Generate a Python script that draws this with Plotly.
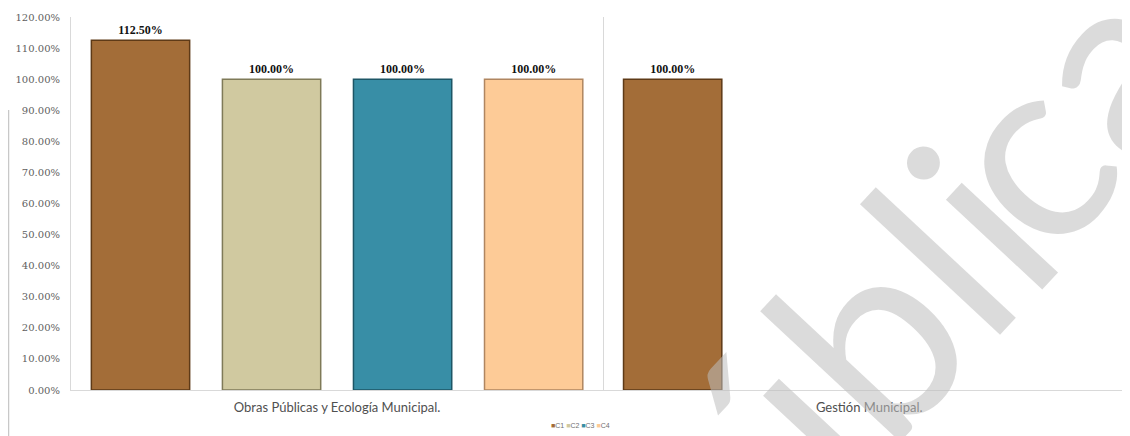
import plotly.graph_objects as go

categories = ["Obras Públicas y Ecología Municipal.", "Gestión Municipal."]
series_names = ["C1", "C2", "C3", "C4"]
c1 = [112.5, 100.0]
c2 = [100.0, None]
c3 = [100.0, None]
c4 = [100.0, None]
tick_vals = [0, 10, 20, 30, 40, 50, 60, 70, 80, 90, 100, 110, 120]
tick_text = [f"{v:.2f}%" for v in tick_vals]

fill_colors = ["#A36D38", "#D0C9A0", "#388EA6", "#FDCB97"]
edge_colors = ["#5E3A17", "#7F7A58", "#1D5666", "#B08660"]

# page has an 8px body margin: figure occupies page pixels (8..1130, 8..436)
OFF = 8
W, H = 1130 - OFF, 436 - OFF
ML, MR, MT, MB = 71 - OFF, 0, 17 - OFF, 46
PW, PH = W - ML - MR, H - MT - MB


def px(x):  # page pixel x -> paper
    return (x - OFF - ML) / PW


def py(y):  # page pixel y -> paper
    return (H - MB - (y - OFF)) / PH


fig = go.Figure()
for name, vals, fc, ec in zip(series_names, [c1, c2, c3, c4], fill_colors, edge_colors):
    fig.add_trace(go.Bar(
        x=categories, y=vals, name=name,
        marker=dict(color=fc, line=dict(color=ec, width=1.5)),
        text=[f"<b>{v:.2f}%</b>" if v is not None else "" for v in vals],
        textposition="outside", cliponaxis=False,
        textfont=dict(family="Liberation Serif", size=12, color="#111111"),
        showlegend=False,
    ))

fig.update_layout(
    width=W, height=H,
    margin=dict(l=ML, r=MR, t=MT, b=MB, autoexpand=False),
    paper_bgcolor="white", plot_bgcolor="white",
    barmode="group", bargap=0.015, bargroupgap=0.25,
    showlegend=False,
    xaxis=dict(range=[-0.5, 1.49], showgrid=True, tickson="boundaries",
               gridcolor="#D9D9D9", gridwidth=1, ticks="", showline=True,
               linecolor="#D9D9D9", linewidth=1, automargin=False,
               ticklabelstandoff=5,
               tickfont=dict(family="Lato", size=13, color="#505050")),
    yaxis=dict(range=[0, 120], tickvals=tick_vals, ticktext=tick_text,
               showgrid=False, zeroline=False, showline=True,
               linecolor="#D9D9D9", linewidth=1, ticks="", automargin=False,
               ticklabelstandoff=8,
               tickfont=dict(family="DejaVu Serif", size=10, color="#606060")),
    font=dict(family="Liberation Serif"),
)

# legend (small, drawn as text with coloured squares)
legend_html = "&nbsp;".join(
    f'<span style="color:{c}">■</span><span style="color:#707070">{n}</span>'
    for n, c in zip(series_names, fill_colors))
fig.add_annotation(text=legend_html, xref="paper", yref="paper",
                   x=px(580), y=py(425), xanchor="center", yanchor="middle",
                   showarrow=False, font=dict(family="Liberation Sans", size=7, color="#707070"))

# left frame line of the source document
fig.add_shape(type="line", xref="paper", yref="paper", x0=px(8.5), x1=px(8.5),
              y0=py(436), y1=py(110), line=dict(color="#C8C8C8", width=1.5))

# watermark "Pública" (two parts to mimic the tighter letter spacing)
wm_font = dict(family="Lato", size=260, color="rgba(190,190,190,0.55)")
fig.add_annotation(text="Públi", xref="paper", yref="paper",
                   x=px(803), y=py(398), xanchor="center", yanchor="middle",
                   textangle=-47, showarrow=False, font=wm_font)
fig.add_annotation(text="ca", xref="paper", yref="paper",
                   x=px(1062), y=py(104), xanchor="center", yanchor="middle",
                   textangle=-47, showarrow=False, font=wm_font)

fig.write_html("out.html")
